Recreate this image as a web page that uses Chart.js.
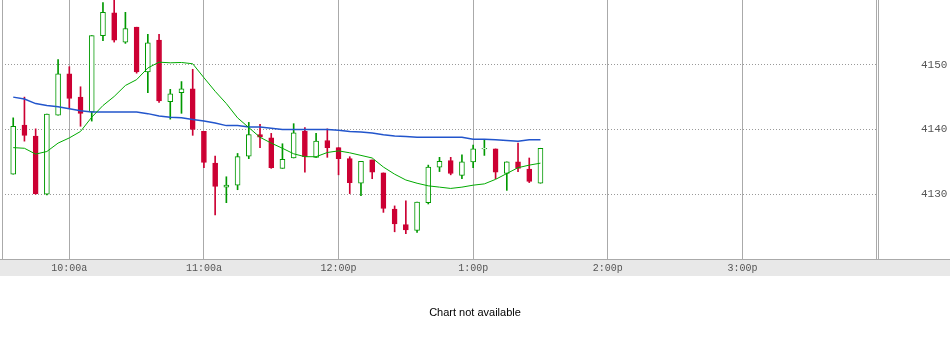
<!DOCTYPE html>
<html>
<head>
<meta charset="utf-8">
<title>Intraday 5-minute chart</title>
<script src="https://cdn.jsdelivr.net/npm/chart.js@4.4.1/dist/chart.umd.min.js"></script>
<style>
  html, body { margin: 0; padding: 0; background: #fff; }
  #wrap { position: relative; width: 950px; height: 347px; }
  #note {
    position: absolute; left: 0; top: 306px; width: 950px;
    text-align: center; font: 11px "Liberation Sans", Arial, sans-serif; color: #000;
  }
</style>
</head>
<body>
<div id="wrap">
  <canvas id="chart" width="950" height="347"></canvas>
  <div id="note">Chart not available</div>
</div>
<script>
// 5-minute bars, labelled by bar end time
const barTimes = [
    '9:35', '9:40', '9:45', '9:50', '9:55', '10:00', '10:05', '10:10', '10:15', '10:20',
    '10:25', '10:30', '10:35', '10:40', '10:45', '10:50', '10:55', '11:00', '11:05', '11:10',
    '11:15', '11:20', '11:25', '11:30', '11:35', '11:40', '11:45', '11:50', '11:55', '12:00',
    '12:05', '12:10', '12:15', '12:20', '12:25', '12:30', '12:35', '12:40', '12:45', '12:50',
    '12:55', '13:00', '13:05', '13:10', '13:15', '13:20', '13:25', '13:30'
];

const opens = [
    4133.1, 4140.7, 4139.0, 4130.0, 4142.2, 4148.6, 4145.0, 4142.7, 4154.5, 4158.0,
    4153.5, 4155.8, 4148.9, 4153.8, 4144.3, 4145.7, 4146.3, 4139.7, 4134.8, 4131.1,
    4131.4, 4135.9, 4139.2, 4138.7, 4134.0, 4135.6, 4139.7, 4135.7, 4138.3, 4137.2,
    4135.5, 4131.7, 4135.3, 4133.3, 4127.7, 4125.3, 4124.4, 4128.7, 4134.2, 4135.2,
    4132.9, 4135.0, 4137.0, 4137.0, 4133.2, 4135.0, 4133.9, 4131.7
];
const highs = [
    4141.8, 4145.0, 4140.1, 4142.4, 4150.8, 4149.7, 4146.6, 4154.5, 4159.6, 4160.0,
    4158.1, 4155.8, 4154.7, 4154.7, 4146.2, 4147.4, 4149.3, 4139.7, 4135.9, 4132.7,
    4136.3, 4141.1, 4140.8, 4139.4, 4137.8, 4140.9, 4140.3, 4139.4, 4140.1, 4137.2,
    4135.8, 4135.1, 4135.3, 4133.3, 4128.2, 4129.0, 4128.8, 4134.5, 4135.7, 4135.7,
    4136.1, 4137.6, 4138.4, 4137.0, 4135.0, 4137.9, 4135.6, 4137.1
];
const lows = [
    4133.1, 4138.2, 4130.0, 4129.9, 4142.2, 4143.3, 4140.5, 4141.3, 4153.7, 4153.5,
    4153.3, 4148.7, 4145.7, 4144.2, 4141.6, 4142.5, 4139.1, 4134.1, 4126.8, 4128.7,
    4130.7, 4135.5, 4137.2, 4134.0, 4134.0, 4135.6, 4133.4, 4135.7, 4135.7, 4133.0,
    4130.1, 4129.8, 4132.4, 4127.2, 4124.2, 4123.9, 4124.1, 4128.5, 4133.5, 4133.0,
    4132.4, 4134.1, 4136.0, 4132.4, 4130.6, 4133.5, 4131.8, 4131.7
];
const closes = [
    4140.5, 4139.1, 4130.1, 4142.4, 4148.6, 4144.8, 4142.5, 4154.5, 4158.1, 4153.8,
    4155.6, 4148.9, 4153.4, 4144.4, 4145.5, 4146.3, 4140.0, 4134.9, 4131.2, 4131.4,
    4135.8, 4139.2, 4138.8, 4134.1, 4135.4, 4139.5, 4135.8, 4138.2, 4137.2, 4135.5,
    4131.8, 4135.1, 4133.4, 4127.8, 4125.4, 4124.5, 4128.8, 4134.2, 4135.1, 4133.2,
    4135.0, 4137.0, 4137.1, 4133.4, 4135.0, 4134.0, 4132.0, 4137.1
];

// moving averages (green = short, blue = long)
const maShort = [
    4137.2, 4137.1, 4136.2, 4136.6, 4137.9, 4138.7, 4139.7, 4141.9, 4143.7, 4145.1,
    4146.8, 4147.7, 4149.5, 4150.4, 4150.3, 4150.35, 4150.15, 4148.0, 4145.9, 4144.0,
    4141.8, 4140.3, 4138.8, 4137.9, 4137.1, 4136.25, 4135.8, 4135.8, 4136.45, 4136.7,
    4136.4, 4136.0, 4135.6, 4134.2, 4133.1, 4132.2, 4131.7, 4131.3, 4131.1, 4130.9,
    4131.1, 4131.4, 4131.6, 4132.3, 4133.2, 4134.1, 4134.5, 4134.8
];
const maLong = [
    4145.0, 4144.7, 4144.0, 4143.7, 4143.5, 4143.2, 4142.9, 4142.7, 4142.7, 4142.7,
    4142.7, 4142.7, 4142.45, 4142.1, 4141.9, 4141.8, 4141.55, 4141.3, 4141.0, 4140.6,
    4140.6, 4140.4, 4140.4, 4140.2, 4140.0, 4140.0, 4140.0, 4140.0, 4140.0, 4139.9,
    4139.7, 4139.6, 4139.45, 4139.2, 4139.0, 4138.9, 4138.8, 4138.8, 4138.8, 4138.8,
    4138.8, 4138.5, 4138.5, 4138.4, 4138.3, 4138.2, 4138.4, 4138.4
];

const xTickTimes = ['10:00', '11:00', '12:00', '13:00', '14:00', '15:00'];
const xTickLabels = ['10:00a', '11:00a', '12:00p', '1:00p', '2:00p', '3:00p'];
const yTicks = [4130, 4140, 4150];

const sessionStart = '9:30';
const sessionEnd = '16:00';

const RED = '#cc0033';
const GREEN = '#009900';

function toMinutes(s) {
    const [h, m] = s.split(':').map(Number);
    return h * 60 + m;
}

const xs = barTimes.map(toMinutes);
const isUp = i => closes[i] >= opens[i];

// gray label band, left edge line, double right edge, bottom line
const framePlugin = {
    id: 'frame',
    beforeDraw(chart) {
        const { ctx, chartArea: a } = chart;
        ctx.save();
        ctx.fillStyle = '#e8e8e8';
        ctx.fillRect(0, a.bottom, chart.width, 17);
        ctx.restore();
    },
    beforeDatasetsDraw(chart) {
        const { ctx, chartArea: a } = chart;
        ctx.save();
        ctx.strokeStyle = '#aaaaaa';
        ctx.lineWidth = 1;
        ctx.beginPath();
        const l = Math.round(a.left) + 0.5;
        const r = Math.round(a.right) - 0.5;
        const b = Math.round(a.bottom) + 0.5;
        ctx.moveTo(l, 0); ctx.lineTo(l, b);
        ctx.moveTo(r, 0); ctx.lineTo(r, b);
        ctx.moveTo(r + 2, 0); ctx.lineTo(r + 2, b);
        ctx.moveTo(0, b); ctx.lineTo(chart.width, b);
        ctx.stroke();
        ctx.restore();
    }
};

const ctx = document.getElementById('chart');

new Chart(ctx, {
    type: 'bar',
    data: {
        datasets: [
            {
                type: 'line',
                label: 'MA short',
                data: xs.map((x, i) => ({ x, y: maShort[i] })),
                borderColor: '#00aa00',
                borderWidth: 1,
                pointRadius: 0,
                tension: 0,
                order: 0
            },
            {
                type: 'line',
                label: 'MA long',
                data: xs.map((x, i) => ({ x, y: maLong[i] })),
                borderColor: '#2255cc',
                borderWidth: 1.5,
                pointRadius: 0,
                tension: 0,
                order: 1
            },
            {
                label: 'Body',
                data: xs.map((x, i) => ({ x, y: [opens[i], closes[i]] })),
                backgroundColor: c => isUp(c.dataIndex) ? '#ffffff' : RED,
                borderColor: c => isUp(c.dataIndex) ? GREEN : RED,
                borderWidth: 1,
                borderSkipped: false,
                barThickness: 5,
                grouped: false,
                order: 2
            },
            {
                label: 'Wick',
                data: xs.map((x, i) => ({ x, y: [lows[i], highs[i]] })),
                backgroundColor: c => isUp(c.dataIndex) ? GREEN : RED,
                borderWidth: 0,
                barThickness: 1,
                grouped: false,
                order: 3
            }
        ]
    },
    options: {
        responsive: false,
        animation: false,
        layout: { padding: { left: 2, top: 0, right: 0, bottom: 0 } },
        plugins: {
            legend: { display: false },
            tooltip: { enabled: false }
        },
        scales: {
            x: {
                type: 'linear',
                position: 'bottom',
                offset: false,
                min: toMinutes(sessionStart),
                max: toMinutes(sessionEnd),
                afterBuildTicks: s => { s.ticks = xTickTimes.map(t => ({ value: toMinutes(t) })); },
                afterFit: s => { s.height = 88; s.paddingLeft = 0; s.paddingRight = 0; },
                grid: { color: '#aaaaaa', lineWidth: 1, drawTicks: false, offset: false },
                border: { display: false },
                ticks: {
                    autoSkip: false,
                    maxRotation: 0,
                    padding: 3,
                    color: '#555555',
                    font: { family: 'Liberation Mono', size: 10 },
                    callback: (v, i) => xTickLabels[i]
                }
            },
            y: {
                position: 'right',
                min: 4120,
                max: 4160,
                afterBuildTicks: s => { s.ticks = yTicks.map(v => ({ value: v })); },
                afterFit: s => { s.width = 73; s.paddingTop = 0; s.paddingBottom = 0; },
                grid: { color: '#999999', lineWidth: 1, drawTicks: false },
                border: { display: false, dash: [1, 2] },
                ticks: {
                    padding: 44,
                    color: '#555555',
                    font: { family: 'Liberation Mono', size: 11 },
                    callback: v => String(v)
                }
            }
        }
    },
    plugins: [framePlugin]
});
</script>
</body>
</html>
